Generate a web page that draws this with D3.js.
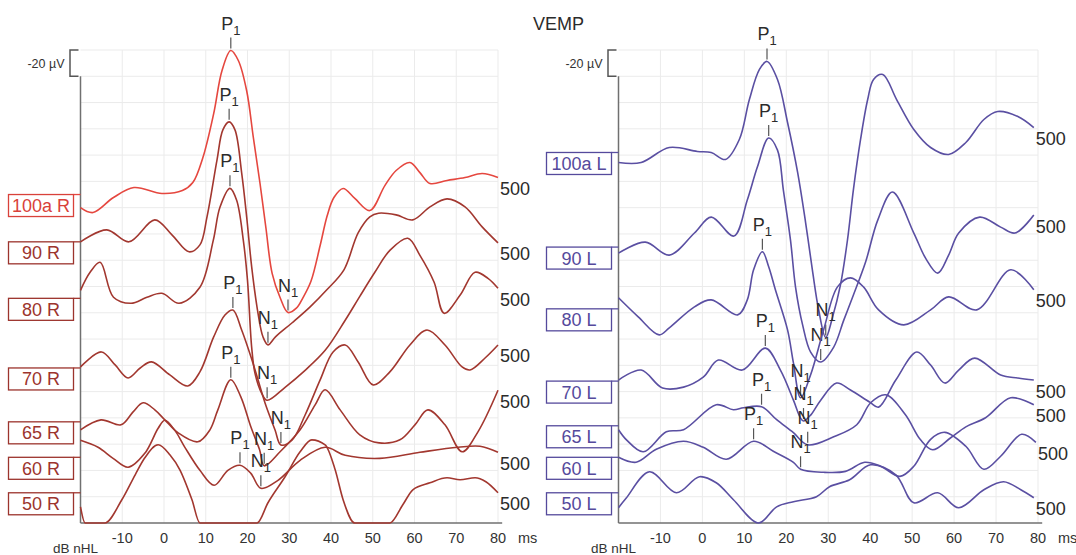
<!DOCTYPE html>
<html><head><meta charset="utf-8">
<style>
body { margin: 0; background: #fff; }
svg { font-family: "Liberation Sans", Arial, sans-serif; }
.grid line { stroke: #ebebeb; stroke-width: 1; }
.trace { fill: none; stroke-width: 1.6; stroke-linejoin: round; }
</style></head><body>
<svg width="1076" height="555"></svg>
<script src="https://d3js.org/d3.v7.min.js"></script>
<script>

var msTicks = [-10, 0, 10, 20, 30, 40, 50, 60, 70, 80];
var freqLabel = "500";

// right ear (left panel)
var earR = ["100a R", "90 R", "80 R", "70 R", "65 R", "60 R", "50 R"];
var baseR = [250, 214, 171, 118, 77, 50, 23];          // baseline, µV above the time axis
var p1R = [16, 15.6, 15.8, 16.5, 16, 18.2];            // ms
var n1R = [29.7, 24.9, 24.7, 28, 24, 23.2];

// left ear (right panel)
var earL = ["100a L", "90 L", "80 L", "70 L", "65 L", "60 L", "50 L"];
var baseL = [282, 210, 163, 108, 74, 50, 23];
var p1L = [15.4, 15.8, 14.3, 15, 14.1, 12.2];
var n1L = [29.4, 28.2, 23.4, 24.1, 25.1, 23.4];

// traces: [ms, µV from baseline], negative = up (as the -20 µV bar)
var r100a = [[-20,9.9],[-17,13.7],[-12.1,2.3],[-7.2,-5.3],[-0.5,-0.8],[4.4,-3],[6.9,-9.1],[9.3,-28],[11.9,-61.6],[13.9,-94.4],[16,-109.6],[17.8,-102],[19.8,-79],[21.4,-43.4],[23,-8.4],[24.4,25.1],[25.9,60],[27.8,78.4],[29.7,89.8],[31.7,86.5],[33.3,78.4],[35.2,66],[37.4,38.8],[39.1,16],[40.7,2.3],[42.9,-4.6],[45.7,3],[49.3,12.2],[52.9,-6.8],[55.6,-18.3],[58.9,-24.4],[61.3,-16.7],[63.7,-8.4],[67.8,-10.7],[72.1,-12.9],[76.2,-16],[80,-12.9]];
var r90 = [[-20,0],[-13.7,-9.1],[-8.4,0],[-2.2,-16.7],[1.9,-5.3],[6,7.6],[8.6,2.3],[10.3,-19],[12.7,-62.4],[14.1,-85.2],[15.6,-91.3],[17,-85.2],[18.6,-52.5],[19.8,-19],[21,19],[22.5,54],[23.7,72.3],[24.9,78.4],[26.7,72.3],[30.7,61.6],[35,49.5],[39,36.5],[43.1,21.3],[46.5,-6.8],[49.3,-19],[51.4,-21.8],[55.6,-20.5],[59.6,-16.7],[63.7,-26.6],[67.8,-32.7],[72.1,-26.6],[76.2,-11.4],[80,0.8]];
var r80 = [[-20,-6.1],[-17.7,-19.8],[-15.3,-27.4],[-12.1,-0.8],[-7.9,3.8],[-4.1,-0.8],[-0.5,-3.8],[3.6,3.8],[8.6,-8.4],[11.8,-44.1],[13.4,-69.3],[15.8,-83.7],[17.4,-74.6],[19,-44.1],[20,-13.7],[21,37.3],[21.8,57.1],[23.4,72.3],[24.7,77.6],[29,67.7],[33.8,54.8],[38.6,39.6],[43.4,16.7],[46.9,-1.5],[50.5,-19.8],[54.1,-36.5],[58.4,-45.7],[61.3,-32.7],[64.7,-12.2],[67.1,11.4],[70.9,-2.3],[74.5,-19.8],[77.6,-15.2],[80,-7.6]];
var r70 = [[-20,-0.8],[-15,-12.2],[-11.7,-2.3],[-8.6,7.6],[-5.7,0],[-3,-4.6],[1.4,5.3],[5.7,13.7],[8.6,3],[11.9,-23.6],[14.6,-40.3],[16.5,-44.1],[18.6,-28.9],[21.3,-3.8],[24.2,26.6],[26.6,47.2],[28,58.6],[30.7,54.8],[33.8,35.8],[37.4,9.1],[40.5,-12.2],[43.4,-17.5],[46.5,-4.6],[50.1,12.9],[54.1,3],[58.9,-17.5],[63,-28.9],[67.3,-17.5],[71.4,-0.8],[73.3,1.5],[76.9,-7.6],[80,-17.5]];
var r65 = [[-20,6.1],[-15.1,-1.5],[-10.3,2.3],[-7.4,-7.6],[-5,-14.5],[-2.2,-9.1],[0.2,-1.5],[3.4,8.4],[8.1,15.2],[11,6.1],[12.9,-9.1],[16,-32],[18.4,-19],[20.8,3.8],[22.9,21.3],[24,33.5],[27.8,22.8],[32.6,6.1],[36.2,-12.9],[38.6,-24.4],[42.2,-9.1],[46.9,9.9],[51.5,16],[56.5,13.7],[60.1,2.3],[63.2,-9.1],[67.3,2.3],[71.4,22.8],[75.2,7.6],[80,-24]];
var r60 = [[-20,-12.9],[-15.8,-7.6],[-12.2,0.8],[-8.6,7.6],[-4.6,-3],[-1.4,-22.1],[0.2,-28.2],[2.6,-20.5],[5,-7.6],[8.6,9.9],[12,21.3],[15.3,9.9],[18.2,6.1],[20.8,12.2],[23.2,23.6],[27.3,17.5],[32.6,2.3],[38.6,-7.6],[43.4,-1.5],[51.7,0.8],[61.3,-3.8],[70.4,-7.6],[75.7,-8.4],[80,-3.8]];
var r50 = [[-20,10.7],[-18.9,23],[-14.2,23],[-10.1,5.3],[-6.9,-13.7],[-4.6,-26.6],[-1.4,-36.5],[1.4,-28.9],[3.8,-17.5],[6.7,5.3],[8.6,23],[22.3,23],[24.9,7.6],[29,-12.2],[32.6,-31.2],[35.4,-40.3],[38.6,-36.5],[41,-17.5],[42.9,5.3],[45.7,23],[54.1,23],[57.2,9.1],[59.6,-2.3],[63.7,-7.6],[67.8,-11.4],[70.9,-9.9],[74.5,-11.4],[77.1,-8.4],[80,0]];

var l100a = [[-20,7.6],[-14.6,7.6],[-7.9,-3.8],[-1.2,-0.8],[2.1,0],[5.5,5.3],[8.8,-9.9],[11.2,-40.3],[13.6,-63.2],[15.4,-69.3],[17.9,-55.6],[20.3,-22.8],[22.7,15.2],[24.6,53.3],[26.3,91.3],[27.7,119.5],[29.4,140.8],[31,125.6],[32.9,101],[34.6,66.2],[36,28.2],[37.7,-9.9],[39.4,-40.3],[40.8,-55.6],[43,-59.4],[46.3,-40.3],[50.4,-17.5],[54.4,-3.8],[58.7,1.5],[62.8,-7.6],[67.1,-25.1],[70.4,-31.2],[75.2,-27.4],[79,-19]];
var l90 = [[-20,4.6],[-13.6,-3.8],[-7.9,6.1],[-1.9,-10.7],[2.1,-22.8],[7.5,-8.4],[10.7,-35.8],[13.1,-60.9],[15.8,-83],[17.9,-73.8],[19.3,-43.4],[21,-5.3],[22.2,30.4],[23.9,59.4],[25.8,79.9],[28.2,87.5],[31.3,76.1],[33.7,55.6],[36,36.5],[38.9,11.4],[41.8,-20.5],[45.3,-41.9],[50.4,-10.7],[53.2,8.4],[56.1,19.8],[58.7,6.1],[61.1,-10.7],[66.1,-22.8],[71.1,-15.2],[74.5,-10.7],[79,-24.4]];
var l80 = [[-20,-8.4],[-15.3,6.1],[-10.3,19.8],[-7.9,14.5],[-1.9,-1.5],[2.1,-6.8],[8.4,4.6],[10.7,-6.8],[12.2,-29.7],[14.3,-43.4],[15.8,-32],[17.4,-14.5],[20.3,16],[21.7,41.1],[23.4,67.7],[25.8,50.2],[28.9,16],[32.2,-16.7],[35.3,-23.6],[38.4,-16.7],[42,0.8],[48,12.2],[54.4,0.8],[58.7,-9.1],[65.4,0.8],[73.5,-29.7],[79,-14.5]];
var l70 = [[-20,-0.8],[-14.6,-8.4],[-9.5,5.3],[-4.5,4.6],[0.2,-3],[3.8,-16],[9.5,-8.4],[15,-25.1],[18.6,-8.4],[21.7,14.5],[23.4,28.2],[24.1,30.4],[25.8,25.9],[28.2,14.5],[32,1.5],[35.3,6.8],[39.9,16],[42,19.8],[46.1,-0.8],[51.1,-22.1],[54.4,-12.2],[57.8,1.5],[61.1,-8.4],[64.9,-17.5],[71.1,-4.6],[75.2,-2.3],[79,-0.8]];
var l65 = [[-20,3],[-18.1,10.7],[-14.1,19.8],[-8.6,4.6],[-4.5,3],[3.3,-16],[7.4,-12.2],[9.8,-13.7],[14.1,-14.5],[17.7,-4.6],[21.7,5.3],[25.1,14.5],[31.3,8.4],[36.8,-0.8],[40.1,-17.5],[43.7,-23.6],[48.4,-8.4],[52,10.7],[54.9,18.3],[59.2,9.1],[62.8,0.8],[67.5,-6.1],[73.5,-21.3],[79,-16]];
var l60 = [[-20,0],[-15.8,3.8],[-11,-6.1],[-4.5,-12.2],[0.2,-7.6],[5.7,1.5],[12.2,-12.2],[16.9,-4.6],[21.7,3.8],[23.4,9.1],[28.9,11.4],[34.1,10.7],[38.7,3.8],[42.5,6.8],[47.1,14.5],[50.4,6.8],[54.4,-13.7],[57.8,-19],[62.8,-8.4],[67.1,9.1],[71.1,-0.8],[76.1,-17.5],[79.5,-11.4]];
var l50 = [[-20,11.4],[-18.1,3.8],[-12.6,-16],[-6.2,0],[-0.7,-12.2],[3.3,-7.6],[7.4,5.3],[13.4,23],[17.7,10.7],[21.7,6.8],[27.2,3],[30.3,-4.6],[35.1,-9.9],[40.1,-21.3],[46.1,-13.7],[50.4,7.6],[56.1,0],[61.1,11.4],[67.1,-2.3],[71.8,-8.4],[75.9,-2.3],[79,3.8]];

var tracesR = [r100a, r90, r80, r70, r65, r60, r50];
var tracesL = [l100a, l90, l80, l70, l65, l60, l50];

var svg = d3.select("svg");

var y = d3.scaleLinear().domain([0, 360]).range([523, 50]);

// the recorder clips at the time axis
svg.append("clipPath").attr("id", "plotclip")
  .append("rect").attr("x", 0).attr("y", 0).attr("width", 1076).attr("height", y(0) + 1);

function drawPanel(p) {
  var x = d3.scaleLinear().domain([-20, 80]).range(p.range);
  var g = svg.append("g");
  var x0 = x(-20);

  // grid
  var grid = g.append("g").attr("class", "grid");
  grid.selectAll(".v").data(msTicks).enter().append("line")
      .attr("x1", function(d) { return x(d); }).attr("x2", function(d) { return x(d); })
      .attr("y1", y(360)).attr("y2", y(0));
  grid.selectAll(".h").data(d3.range(20, 361, 20)).enter().append("line")
      .attr("x1", x0).attr("x2", x(80))
      .attr("y1", function(d) { return y(d); }).attr("y2", function(d) { return y(d); });

  // axes
  g.append("line").attr("x1", x0).attr("x2", x0).attr("y1", y(340)).attr("y2", y(0))
      .attr("stroke", "#707070").attr("stroke-width", 1.5);
  g.append("line").attr("x1", x0).attr("x2", x(81)).attr("y1", y(0)).attr("y2", y(0))
      .attr("stroke", "#707070").attr("stroke-width", 1.5);
  g.append("path")
      .attr("d", "M" + (x0 - 2) + "," + y(360) + "H" + (x0 - 10.5) + "V" + y(340) + "H" + (x0 - 2))
      .attr("fill", "none").attr("stroke", "#555").attr("stroke-width", 1.5);
  g.append("text").attr("x", x0 - 16).attr("y", y(350) + 4.5)
      .attr("text-anchor", "end").attr("font-size", 12.5).attr("fill", "#333").text("-20 µV");

  g.selectAll(".tick").data(msTicks).enter().append("text")
      .attr("x", function(d) { return x(d); }).attr("y", 543)
      .attr("text-anchor", "middle").attr("font-size", 14.5).attr("fill", "#333")
      .text(function(d) { return d; });
  g.append("text").attr("x", x(80) + 20).attr("y", 543).attr("font-size", 14.5)
      .attr("fill", "#333").text("ms");
  g.append("text").attr("x", x0 - 5).attr("y", 552.5).attr("text-anchor", "middle")
      .attr("font-size", 13.5).attr("fill", "#333").text("dB nHL");

  p.traces.forEach(function(tr, i) {
    var base = p.base[i];
    var col = p.colors[i];
    var yv = function(d) { return y(Math.max(0, base - d[1])); };
    // traces that run flat along the axis keep monotone segments, the rest are smooth
    var floor = tr.filter(function(d) { return base - d[1] <= 0; }).length;
    var line = d3.line().x(function(d) { return x(d[0]); }).y(yv)
        .curve(floor > 1 ? d3.curveMonotoneX : d3.curveCatmullRom.alpha(0.5));

    g.append("path").datum(tr).attr("class", "trace").attr("stroke", col)
        .attr("clip-path", "url(#plotclip)").attr("d", line);

    // ear / level box
    var by = y(base);
    g.append("line").attr("x1", x0 - 7).attr("x2", x0).attr("y1", by).attr("y2", by)
        .attr("stroke", col).attr("stroke-width", 1.3);
    g.append("rect").attr("x", x0 - 72).attr("y", by).attr("width", 65).attr("height", 22)
        .attr("fill", "#fff").attr("stroke", p.boxColors[i]).attr("stroke-width", 1.3);
    g.append("text").attr("x", x0 - 39.5).attr("y", by + 17.5).attr("text-anchor", "middle")
        .attr("font-size", 18).attr("fill", p.boxColors[i]).text(p.ears[i]);

    // stimulus label at trace end
    var last = tr[tr.length - 1];
    g.append("text").attr("x", x(last[0]) + 2).attr("y", yv(last) + 17.5)
        .attr("font-size", 18).attr("fill", "#2b2b2b").text(freqLabel);

    // P1 / N1 markers
    [["P", p.p1[i]], ["N", p.n1[i]]].forEach(function(m) {
      if (m[1] === undefined) return;
      var pt = tr.reduce(function(a, b) { return Math.abs(b[0] - m[1]) < Math.abs(a[0] - m[1]) ? b : a; });
      var px = x(pt[0]), py = yv(pt);
      g.append("line").attr("x1", px).attr("x2", px).attr("y1", py - 13).attr("y2", py - 2)
          .attr("stroke", "#555").attr("stroke-width", 1.2);
      var t = g.append("text").attr("x", px).attr("y", py - 21).attr("text-anchor", "middle")
          .attr("font-size", 18).attr("fill", "#2b2b2b");
      t.append("tspan").text(m[0]);
      t.append("tspan").attr("font-size", 13).attr("dy", 5).text("1");
    });
  });
}

drawPanel({
  range: [80.5, 498], traces: tracesR, base: baseR, ears: earR, p1: p1R, n1: n1R,
  colors: ["#e5473f", "#a2372f", "#a2372f", "#a2372f", "#a2372f", "#a2372f", "#a2372f"],
  boxColors: ["#d9413a", "#9c342d", "#9c342d", "#9c342d", "#9c342d", "#9c342d", "#9c342d"]
});
drawPanel({
  range: [618.5, 1038], traces: tracesL, base: baseL, ears: earL, p1: p1L, n1: n1L,
  colors: ["#5a4fa2", "#5a4fa2", "#5a4fa2", "#5a4fa2", "#5a4fa2", "#5a4fa2", "#5a4fa2"],
  boxColors: ["#554a9c", "#554a9c", "#554a9c", "#554a9c", "#554a9c", "#554a9c", "#554a9c"]
});

svg.append("text").attr("x", 533).attr("y", 30).attr("font-size", 18).attr("fill", "#2b2b2b").text("VEMP");

</script>
</body></html>
